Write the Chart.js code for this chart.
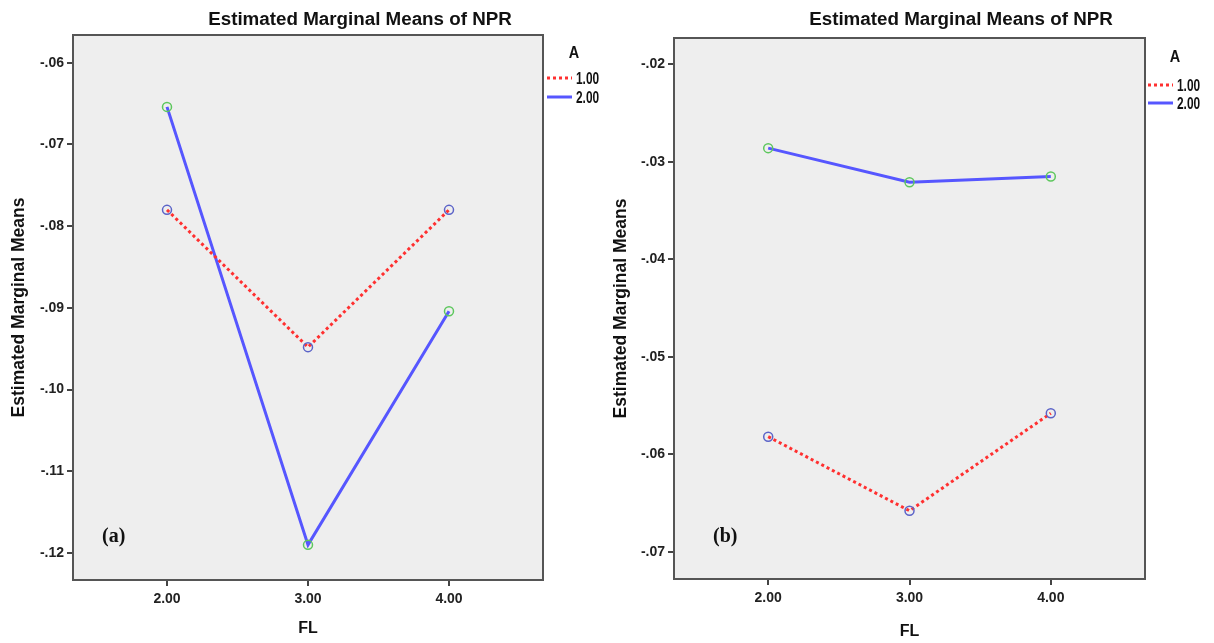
<!DOCTYPE html>
<html>
<head>
<meta charset="utf-8">
<script src="https://cdn.jsdelivr.net/npm/chart.js@4.4.0/dist/chart.umd.min.js"></script>
<style>
  body { margin: 0; background: #fff; width: 1214px; height: 643px; overflow: hidden; position: relative; }
  .pane { position: absolute; top: 0; }
  #paneA { left: 0; }
  #paneB { left: 600px; }
</style>
</head>
<body>
<div class="pane" id="paneA"><canvas id="chartA" width="600" height="643"></canvas></div>
<div class="pane" id="paneB"><canvas id="chartB" width="614" height="643"></canvas></div>
<script>
// FL levels on the x axis, A groups in the legend
var flLevels = [2, 3, 4];
var groupNames = ['1.00', '2.00'];

// estimated marginal means of NPR, panel (a)
var meansA1 = [-0.0780, -0.0948, -0.0780];
var meansA2 = [-0.0654, -0.1190, -0.0904];
var ticksA = [-0.06, -0.07, -0.08, -0.09, -0.10, -0.11, -0.12];

// estimated marginal means of NPR, panel (b)
var meansB1 = [-0.0582, -0.0658, -0.0558];
var meansB2 = [-0.0286, -0.0321, -0.0315];
var ticksB = [-0.02, -0.03, -0.04, -0.05, -0.06, -0.07];

var narrow = "'Liberation Sans Narrow', 'Arial Narrow', 'Liberation Sans', sans-serif";
var plain = "'Liberation Sans', Arial, sans-serif";

function pts(vals) {
    return flLevels.map(function (x, i) { return { x: x, y: vals[i] }; });
}

function fmtMean(v) {
    return v.toFixed(2).replace('0.', '.');
}

// squeezed text, close to a narrow face
function squeezeText(ctx, txt, x, y, sx) {
    ctx.save();
    ctx.translate(x, y);
    ctx.scale(sx, 1);
    ctx.fillText(txt, 0, 0);
    ctx.restore();
}

// grey plot box with dark frame, chart title, legend and panel tag
var spssBox = {
    id: 'spssBox',
    beforeDraw: function (chart) {
        var a = chart.chartArea, ctx = chart.ctx;
        ctx.save();
        ctx.fillStyle = '#eeeeee';
        ctx.fillRect(a.left, a.top, a.right - a.left, a.bottom - a.top);
        ctx.restore();
    },
    afterDraw: function (chart, args, o) {
        var a = chart.chartArea, ctx = chart.ctx;
        ctx.save();
        ctx.strokeStyle = '#555';
        ctx.lineWidth = 2;
        ctx.strokeRect(a.left, a.top, a.right - a.left, a.bottom - a.top);

        ctx.fillStyle = '#111';
        ctx.textAlign = 'center';
        ctx.textBaseline = 'middle';
        ctx.font = 'bold 18.8px ' + plain;
        ctx.fillText('Estimated Marginal Means of NPR', o.titleX, 20);

        ctx.font = 'bold 17px ' + plain;
        squeezeText(ctx, 'A', o.legX + 27, o.legY[0], 0.85);
        ctx.textAlign = 'left';
        ctx.font = 'bold 16.5px ' + plain;
        chart.data.datasets.forEach(function (ds, i) {
            var y = o.legY[i + 1];
            ctx.strokeStyle = ds.borderColor;
            ctx.lineWidth = ds.borderWidth;
            ctx.setLineDash(ds.borderDash || []);
            ctx.beginPath();
            ctx.moveTo(o.legX, y);
            ctx.lineTo(o.legX + 25, y);
            ctx.stroke();
            ctx.setLineDash([]);
            squeezeText(ctx, ds.label, o.legX + 29, y + 1, 0.72);
        });

        ctx.font = 'bold 20px ' + "'Liberation Serif', 'Times New Roman', serif";
        ctx.fillText(o.tag, o.tagX, 537);
        ctx.restore();
    }
};

function makePanel(id, lo, hi, means1, means2, yTicks, box) {
    return new Chart(document.getElementById(id), {
        type: 'line',
        data: {
            datasets: [{
                label: groupNames[0],
                data: pts(means1),
                borderColor: '#ff3030',
                borderWidth: 3,
                borderDash: [3, 3],
                pointRadius: 4.5,
                pointBorderWidth: 1.5,
                pointBorderColor: '#5b63c8',
                pointBackgroundColor: 'rgba(0,0,0,0)'
            }, {
                label: groupNames[1],
                data: pts(means2),
                borderColor: '#5656ff',
                borderWidth: 3,
                pointRadius: 4.5,
                pointBorderWidth: 1.5,
                pointBorderColor: '#5dc75d',
                pointBackgroundColor: 'rgba(0,0,0,0)'
            }]
        },
        options: {
            responsive: false,
            animation: false,
            layout: { padding: { top: box.top, right: box.right, left: 0, bottom: 0 } },
            plugins: {
                legend: { display: false },
                tooltip: { enabled: false },
                spssBox: { titleX: box.titleX, legX: box.legX, legY: box.legY, tag: box.tag, tagX: box.tagX }
            },
            scales: {
                x: {
                    type: 'linear',
                    min: 4 / 3,
                    max: 14 / 3,
                    afterFit: function (s) { s.height = box.xh; },
                    afterBuildTicks: function (s) {
                        s.ticks = flLevels.map(function (v) { return { value: v }; });
                    },
                    grid: { drawOnChartArea: false, tickLength: 6, color: '#444', lineWidth: 2 },
                    border: { display: false },
                    ticks: {
                        padding: 5,
                        color: '#222',
                        font: { family: narrow, size: 14, weight: 'bold' },
                        callback: function (v) { return v.toFixed(2); }
                    },
                    title: {
                        display: true,
                        text: 'FL',
                        color: '#111',
                        font: { family: plain, size: 16, weight: 'bold' },
                        padding: { top: 0, bottom: box.xtPad }
                    }
                },
                y: {
                    min: lo,
                    max: hi,
                    afterFit: function (s) { s.width = box.yw; },
                    afterBuildTicks: function (s) {
                        s.ticks = yTicks.map(function (v) { return { value: v }; });
                    },
                    grid: { drawOnChartArea: false, tickLength: 6, color: '#444', lineWidth: 2 },
                    border: { display: false },
                    ticks: {
                        padding: 3,
                        color: '#222',
                        font: { family: narrow, size: 14, weight: 'bold' },
                        callback: function (v) { return fmtMean(v); }
                    },
                    title: {
                        display: true,
                        text: 'Estimated Marginal Means',
                        color: '#111',
                        font: { family: plain, size: 17.5, weight: 'bold' },
                        padding: { top: box.ytPad, bottom: 0 }
                    }
                }
            }
        },
        plugins: [spssBox]
    });
}

var chartA = makePanel('chartA', -0.1233, -0.0566, meansA1, meansA2, ticksA, {
    top: 35, right: 57, yw: 73, xh: 63, xtPad: 5, ytPad: 9,
    titleX: 360, legX: 547, legY: [53, 78, 97], tag: '(a)', tagX: 102
});

var chartB = makePanel('chartB', -0.0728, -0.0173, meansB1, meansB2, ticksB, {
    top: 38, right: 69, yw: 74, xh: 64, xtPad: 2, ytPad: 11,
    titleX: 361, legX: 548, legY: [57, 85, 103], tag: '(b)', tagX: 113
});
</script>
</body>
</html>
